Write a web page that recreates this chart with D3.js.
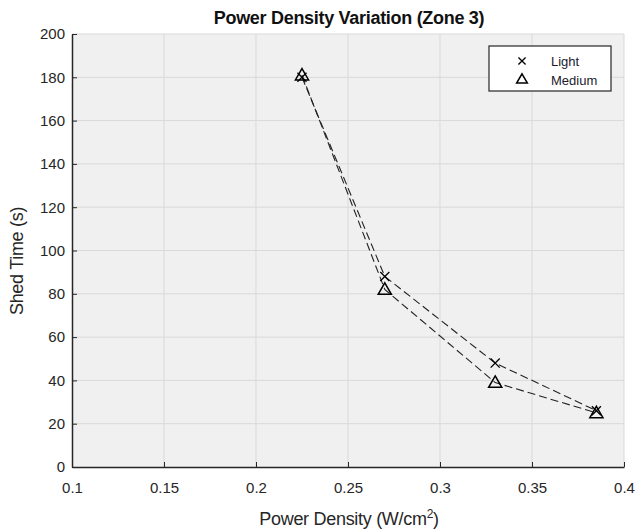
<!DOCTYPE html>
<html>
<head>
<meta charset="utf-8">
<script src="https://cdn.jsdelivr.net/npm/d3@7"></script>
<style>
  body { margin: 0; background: #fff; }
  text { font-family: "Liberation Sans", Arial, sans-serif; }
</style>
</head>
<body>
<div id="chart"></div>
<script>
// Daten
const powerDensity = [0.225, 0.27, 0.33, 0.385];
const lightTime = [180, 88, 48, 26];
const mediumTime = [181, 82, 39, 25];
const xTicks = [0.1, 0.15, 0.2, 0.25, 0.3, 0.35, 0.4];
const yTicks = [0, 20, 40, 60, 80, 100, 120, 140, 160, 180, 200];

const width = 636, height = 531;
const m = { left: 72, right: 12, top: 34, bottom: 64 };

const svg = d3.select("#chart").append("svg")
  .attr("width", width).attr("height", height);

const x = d3.scaleLinear().domain([0.1, 0.4]).range([m.left, width - m.right]);
const y = d3.scaleLinear().domain([0, 200]).range([height - m.bottom, m.top]);

// Hintergrund der Zeichenfläche
svg.append("rect")
  .attr("x", m.left).attr("y", m.top)
  .attr("width", width - m.left - m.right)
  .attr("height", height - m.top - m.bottom)
  .attr("fill", "#f0f0f0");

// Gitterlinien
svg.append("g").selectAll("line").data(xTicks.slice(1)).join("line")
  .attr("x1", d => x(d)).attr("x2", d => x(d))
  .attr("y1", m.top).attr("y2", height - m.bottom)
  .attr("stroke", "#d9d9d9").attr("stroke-width", 1);
svg.append("g").selectAll("line").data(yTicks.slice(1)).join("line")
  .attr("y1", d => y(d)).attr("y2", d => y(d))
  .attr("x1", m.left).attr("x2", width - m.right)
  .attr("stroke", "#d9d9d9").attr("stroke-width", 1);

// Achsen (Ticks nach innen)
const xAxis = svg.append("g")
  .attr("transform", `translate(0,${height - m.bottom})`)
  .call(d3.axisBottom(x).tickValues(xTicks).tickSizeInner(-5).tickSizeOuter(0)
    .tickFormat(d3.format("")));
xAxis.select(".domain").attr("stroke", "#262626").attr("stroke-width", 1.5);
xAxis.selectAll(".tick line").attr("stroke", "#262626");
xAxis.selectAll("text").attr("font-size", 15).attr("fill", "#262626").attr("dy", "1.5em");

const yAxis = svg.append("g")
  .attr("transform", `translate(${m.left},0)`)
  .call(d3.axisLeft(y).tickValues(yTicks).tickSizeInner(-5).tickSizeOuter(0));
yAxis.select(".domain").attr("stroke", "#262626").attr("stroke-width", 1.5);
yAxis.selectAll(".tick line").attr("stroke", "#262626");
yAxis.selectAll("text").attr("font-size", 15).attr("fill", "#262626").attr("x", -7);

// Linien
const line = d3.line().x(d => x(d[0])).y(d => y(d[1]));
const lightPts = powerDensity.map((p, i) => [p, lightTime[i]]);
const mediumPts = powerDensity.map((p, i) => [p, mediumTime[i]]);

[lightPts, mediumPts].forEach(pts => {
  svg.append("path").datum(pts)
    .attr("d", line)
    .attr("fill", "none")
    .attr("stroke", "#222")
    .attr("stroke-width", 1.1)
    .attr("stroke-dasharray", "8,4");
});

// Marker
const cross = d3.symbol().type(d3.symbolX).size(55);
const tri = d3.symbol().type(d3.symbolTriangle).size(75);

svg.append("g").selectAll("path").data(lightPts).join("path")
  .attr("transform", d => `translate(${x(d[0])},${y(d[1])})`)
  .attr("d", cross)
  .attr("fill", "none").attr("stroke", "#000").attr("stroke-width", 1.3);

svg.append("g").selectAll("path").data(mediumPts).join("path")
  .attr("transform", d => `translate(${x(d[0])},${y(d[1]) + 1})`)
  .attr("d", tri)
  .attr("fill", "none").attr("stroke", "#000").attr("stroke-width", 1.5);

// Titel und Achsenbeschriftungen
svg.append("text")
  .attr("x", 349).attr("y", 24)
  .attr("text-anchor", "middle")
  .attr("font-size", 18).attr("font-weight", "bold").attr("fill", "#111")
  .attr("letter-spacing", -0.3)
  .text("Power Density Variation (Zone 3)");

const xl = svg.append("text")
  .attr("x", 349).attr("y", 525)
  .attr("text-anchor", "middle")
  .attr("font-size", 18).attr("fill", "#262626")
  .attr("letter-spacing", -0.3);
xl.append("tspan").text("Power Density (W/cm");
xl.append("tspan").attr("font-size", 12).attr("dy", -7).text("2");
xl.append("tspan").attr("dy", 7).text(")");

svg.append("text")
  .attr("transform", "translate(23,261) rotate(-90)")
  .attr("text-anchor", "middle")
  .attr("font-size", 18).attr("fill", "#262626")
  .attr("letter-spacing", -0.3)
  .text("Shed Time (s)");

// Legende
const lg = svg.append("g");
lg.append("rect")
  .attr("x", 489).attr("y", 46).attr("width", 122).attr("height", 45)
  .attr("fill", "#fff").attr("stroke", "#262626").attr("stroke-width", 1.2);
lg.append("path").attr("transform", "translate(522,61)").attr("d", d3.symbol().type(d3.symbolX).size(35))
  .attr("fill", "none").attr("stroke", "#000").attr("stroke-width", 1.3);
lg.append("path").attr("transform", "translate(522,80)").attr("d", d3.symbol().type(d3.symbolTriangle).size(50))
  .attr("fill", "none").attr("stroke", "#000").attr("stroke-width", 1.5);
lg.append("text").attr("x", 551).attr("y", 66).attr("font-size", 13).attr("fill", "#1a1a2e").text("Light");
lg.append("text").attr("x", 551).attr("y", 85).attr("font-size", 13).attr("fill", "#1a1a2e").text("Medium");
</script>
</body>
</html>
